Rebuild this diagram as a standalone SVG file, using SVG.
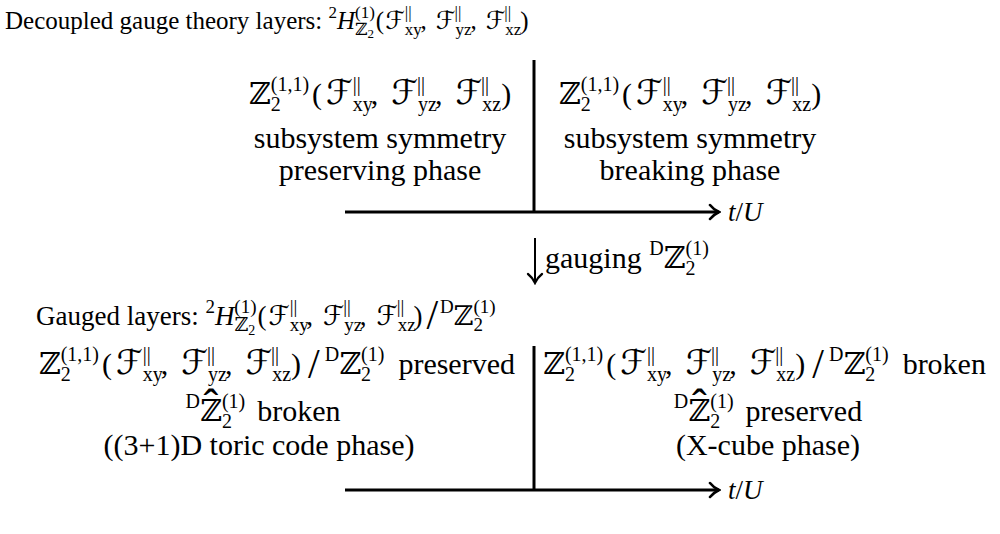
<svg xmlns="http://www.w3.org/2000/svg" width="1000" height="534" viewBox="0 0 1000 534">
<style>
text{font-family:'Liberation Serif','Tinos','Times New Roman','Noto Serif','DejaVu Serif','FreeSerif',serif;fill:#000}
.t25{font-size:25px}
.t27{font-size:27px}
.t30{font-size:30px}
.s17{font-size:17px}
.s19{font-size:19px}
.s20{font-size:20px}
.ss13{font-size:13px}
.ss14{font-size:14px}
.i{font-style:italic}
.bb{font-family:'DejaVu Serif','DejaVu Sans',serif}
.scr{font-family:'DejaVu Serif','DejaVu Sans',serif;font-style:italic}
.F{font-size:34px}
.big{font-size:42px}
.hat{font-size:44px;font-family:'Liberation Sans',sans-serif}
.ax{stroke:#000;stroke-width:3;fill:none}
</style>
<defs>
<marker id="to" viewBox="-12 -9 14 18" refX="0" refY="0" markerWidth="14" markerHeight="18" orient="auto" markerUnits="userSpaceOnUse">
<path d="M-9,-7 C-6,-3 -2,-1 0,0 C-2,1 -6,3 -9,7" fill="none" stroke="#000" stroke-width="2.6" stroke-linecap="round"/>
</marker>
<marker id="to2" viewBox="-12 -9 14 18" refX="0" refY="0" markerWidth="14" markerHeight="18" orient="auto" markerUnits="userSpaceOnUse">
<path d="M-9,-7 C-6,-3 -2,-1 0,0 C-2,1 -6,3 -9,7" fill="none" stroke="#000" stroke-width="2.2" stroke-linecap="round"/>
</marker>
</defs>

<g id="connectors">
<line class="ax" x1="534" y1="60" x2="534" y2="212"/>
<line class="ax" x1="345" y1="212" x2="719" y2="212" marker-end="url(#to)"/>
<line x1="535" y1="238" x2="535" y2="283" stroke="#000" stroke-width="2" marker-end="url(#to2)"/>
<line class="ax" x1="534" y1="346" x2="534" y2="490"/>
<line class="ax" x1="345" y1="490" x2="719" y2="490" marker-end="url(#to)"/>
</g>

<g id="title">
<text class="t25" x="5" y="29">Decoupled gauge theory layers: <tspan class="s17" dy="-11">2</tspan><tspan class="i" dy="11">H</tspan><tspan class="s17 bb" dy="6">ℤ</tspan><tspan class="ss13" dy="3">2</tspan><tspan class="s17" dx="-19" dy="-20">(1)</tspan><tspan dx="1" dy="11">(</tspan><tspan class="scr" dx="1">ℱ</tspan><tspan class="s17" dy="6">xy</tspan><tspan class="s17" dx="-17" dy="-17">||</tspan><tspan dx="9" dy="11">,</tspan><tspan class="scr" dx="9">ℱ</tspan><tspan class="s17" dy="6">yz</tspan><tspan class="s17" dx="-17" dy="-17">||</tspan><tspan dx="9" dy="11">,</tspan><tspan class="scr" dx="9">ℱ</tspan><tspan class="s17" dy="6">xz</tspan><tspan class="s17" dx="-17" dy="-17">||</tspan><tspan dx="9" dy="11">)</tspan></text>
</g>

<g id="top-left">
<text class="t30" x="380" y="104" text-anchor="middle"><tspan class="bb">ℤ</tspan><tspan class="s20" dy="7">2</tspan><tspan class="s20" dx="-10" dy="-20">(1,1)</tspan><tspan dx="3" dy="13">(</tspan><tspan class="scr F" dx="4">ℱ</tspan><tspan class="s20" dy="7">xy</tspan><tspan class="s20" dx="-20" dy="-20">||</tspan><tspan dx="10" dy="13">,</tspan><tspan class="scr F" dx="13">ℱ</tspan><tspan class="s20" dy="7">yz</tspan><tspan class="s20" dx="-20" dy="-20">||</tspan><tspan dx="10" dy="13">,</tspan><tspan class="scr F" dx="13">ℱ</tspan><tspan class="s20" dy="7">xz</tspan><tspan class="s20" dx="-20" dy="-20">||</tspan><tspan dx="12" dy="13">)</tspan></text>
<text class="t30" x="380" y="148" text-anchor="middle">subsystem symmetry</text>
<text class="t30" x="380" y="180" text-anchor="middle">preserving phase</text>
</g>

<g id="top-right">
<text class="t30" x="690" y="104" text-anchor="middle"><tspan class="bb">ℤ</tspan><tspan class="s20" dy="7">2</tspan><tspan class="s20" dx="-10" dy="-20">(1,1)</tspan><tspan dx="3" dy="13">(</tspan><tspan class="scr F" dx="4">ℱ</tspan><tspan class="s20" dy="7">xy</tspan><tspan class="s20" dx="-20" dy="-20">||</tspan><tspan dx="10" dy="13">,</tspan><tspan class="scr F" dx="13">ℱ</tspan><tspan class="s20" dy="7">yz</tspan><tspan class="s20" dx="-20" dy="-20">||</tspan><tspan dx="10" dy="13">,</tspan><tspan class="scr F" dx="13">ℱ</tspan><tspan class="s20" dy="7">xz</tspan><tspan class="s20" dx="-20" dy="-20">||</tspan><tspan dx="12" dy="13">)</tspan></text>
<text class="t30" x="690" y="148" text-anchor="middle">subsystem symmetry</text>
<text class="t30" x="690" y="180" text-anchor="middle">breaking phase</text>
</g>

<g id="axis-label-top">
<text class="t27" x="728" y="221"><tspan class="i">t</tspan>/<tspan class="i">U</tspan></text>
</g>

<g id="gauging">
<text class="t30" x="545" y="268">gauging <tspan class="s20" dy="-13">D</tspan><tspan class="bb" dy="13">ℤ</tspan><tspan class="s20" dy="7">2</tspan><tspan class="s20" dx="-10" dy="-20">(1)</tspan></text>
</g>

<g id="gauged">
<text class="t27" x="36" y="325">Gauged layers: <tspan class="s19" dy="-12">2</tspan><tspan class="i" dy="12">H</tspan><tspan class="s19 bb" dy="6">ℤ</tspan><tspan class="ss14" dy="4">2</tspan><tspan class="s19" dx="-21" dy="-22">(1)</tspan><tspan dx="1" dy="12">(</tspan><tspan class="scr" dx="2">ℱ</tspan><tspan class="s19" dy="6">xy</tspan><tspan class="s19" dx="-19" dy="-18">||</tspan><tspan dx="9" dy="12">,</tspan><tspan class="scr" dx="10">ℱ</tspan><tspan class="s19" dy="6">yz</tspan><tspan class="s19" dx="-19" dy="-18">||</tspan><tspan dx="9" dy="12">,</tspan><tspan class="scr" dx="10">ℱ</tspan><tspan class="s19" dy="6">xz</tspan><tspan class="s19" dx="-19" dy="-18">||</tspan><tspan dx="9" dy="12">)</tspan><tspan class="big" dx="4" dy="4">/</tspan><tspan class="s19" dx="2" dy="-16">D</tspan><tspan class="bb" dy="12">ℤ</tspan><tspan class="s19" dy="6">2</tspan><tspan class="s19" dx="-9.5" dy="-18">(1)</tspan></text>
</g>

<g id="bottom-left">
<text class="t30" x="515" y="374" text-anchor="end"><tspan class="bb">ℤ</tspan><tspan class="s20" dy="7">2</tspan><tspan class="s20" dx="-10" dy="-20">(1,1)</tspan><tspan dx="3" dy="13">(</tspan><tspan class="scr F" dx="4">ℱ</tspan><tspan class="s20" dy="7">xy</tspan><tspan class="s20" dx="-20" dy="-20">||</tspan><tspan dx="10" dy="13">,</tspan><tspan class="scr F" dx="13">ℱ</tspan><tspan class="s20" dy="7">yz</tspan><tspan class="s20" dx="-20" dy="-20">||</tspan><tspan dx="10" dy="13">,</tspan><tspan class="scr F" dx="13">ℱ</tspan><tspan class="s20" dy="7">xz</tspan><tspan class="s20" dx="-20" dy="-20">||</tspan><tspan dx="12" dy="13">)</tspan><tspan class="big" dx="7" dy="4">/</tspan><tspan class="s20" dx="5" dy="-17">D</tspan><tspan class="bb" dy="13">ℤ</tspan><tspan class="s20" dy="7">2</tspan><tspan class="s20" dx="-10" dy="-20">(1)</tspan><tspan dx="14" dy="13">preserved</tspan></text>
<text class="t30" x="263" y="421" text-anchor="middle"><tspan class="s20" dy="-13">D</tspan><tspan class="bb" dy="13">ℤ</tspan><tspan class="hat" dx="-18" dy="0">ˆ</tspan><tspan class="s20" dx="3.4" dy="7">2</tspan><tspan class="s20" dx="-10" dy="-20">(1)</tspan><tspan dx="12" dy="13">broken</tspan></text>
<text class="t30" x="259" y="455" text-anchor="middle">((3+1)D toric code phase)</text>
</g>

<g id="bottom-right">
<text class="t30" x="543" y="374"><tspan class="bb">ℤ</tspan><tspan class="s20" dy="7">2</tspan><tspan class="s20" dx="-10" dy="-20">(1,1)</tspan><tspan dx="3" dy="13">(</tspan><tspan class="scr F" dx="4">ℱ</tspan><tspan class="s20" dy="7">xy</tspan><tspan class="s20" dx="-20" dy="-20">||</tspan><tspan dx="10" dy="13">,</tspan><tspan class="scr F" dx="13">ℱ</tspan><tspan class="s20" dy="7">yz</tspan><tspan class="s20" dx="-20" dy="-20">||</tspan><tspan dx="10" dy="13">,</tspan><tspan class="scr F" dx="13">ℱ</tspan><tspan class="s20" dy="7">xz</tspan><tspan class="s20" dx="-20" dy="-20">||</tspan><tspan dx="12" dy="13">)</tspan><tspan class="big" dx="7" dy="4">/</tspan><tspan class="s20" dx="5" dy="-17">D</tspan><tspan class="bb" dy="13">ℤ</tspan><tspan class="s20" dy="7">2</tspan><tspan class="s20" dx="-10" dy="-20">(1)</tspan><tspan dx="14" dy="13">broken</tspan></text>
<text class="t30" x="768" y="421" text-anchor="middle"><tspan class="s20" dy="-13">D</tspan><tspan class="bb" dy="13">ℤ</tspan><tspan class="hat" dx="-18" dy="0">ˆ</tspan><tspan class="s20" dx="3.4" dy="7">2</tspan><tspan class="s20" dx="-10" dy="-20">(1)</tspan><tspan dx="12" dy="13">preserved</tspan></text>
<text class="t30" x="768" y="455" text-anchor="middle">(X-cube phase)</text>
</g>

<g id="axis-label-bottom">
<text class="t27" x="728" y="499"><tspan class="i">t</tspan>/<tspan class="i">U</tspan></text>
</g>
</svg>
